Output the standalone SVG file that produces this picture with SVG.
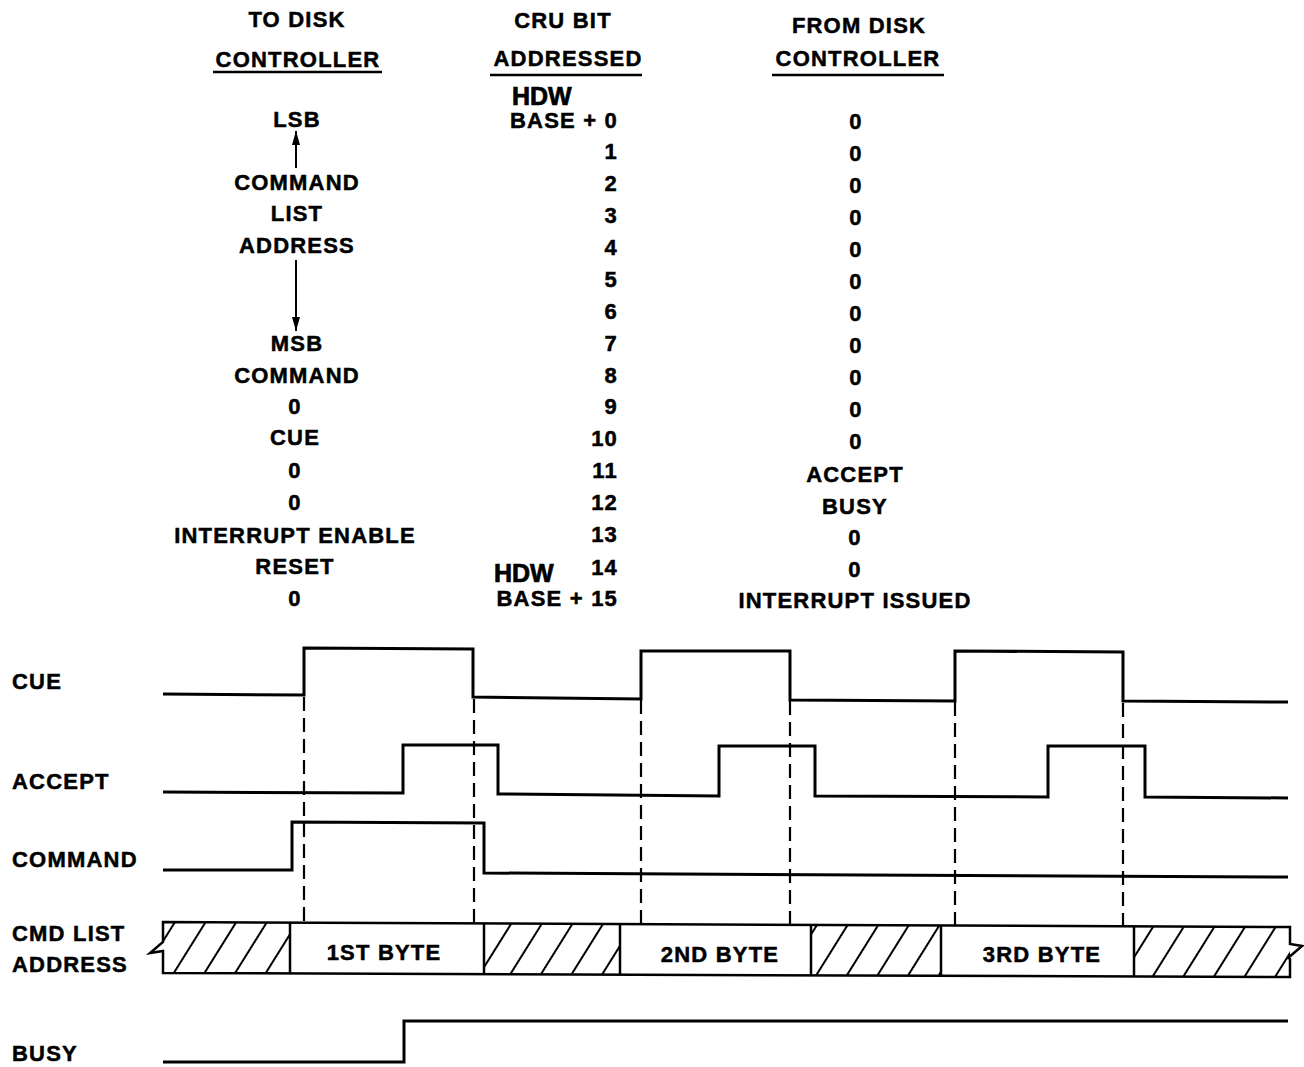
<svg xmlns="http://www.w3.org/2000/svg" width="1304" height="1067" viewBox="0 0 1304 1067">
<style>
text{font-family:"Liberation Sans",Arial,Helvetica,sans-serif;font-weight:bold;font-size:22px;letter-spacing:1.2px;fill:#000;stroke:#000;stroke-width:0.5px}
.m{text-anchor:middle}
.e{text-anchor:end}
.hdw{font-size:25px;letter-spacing:0;stroke-width:0.7px}
.ul{stroke:#000;stroke-width:2.5;fill:none}
.sig{stroke:#000;stroke-width:3;fill:none;stroke-linejoin:miter}
.dash{stroke:#000;stroke-width:2.2;stroke-dasharray:14 7;fill:none}
.bar{stroke:#000;stroke-width:2.5;fill:none}
.hat{fill:url(#hatch);stroke:none}
.arr{stroke:#000;stroke-width:2;fill:none}
</style>
<defs>
<pattern id="hatch" patternUnits="userSpaceOnUse" width="26" height="26" patternTransform="rotate(32)">
<line x1="13" y1="-2" x2="13" y2="28" stroke="#000" stroke-width="2"/>
</pattern>
<marker id="ah" viewBox="0 0 14 10" refX="14" refY="5" markerWidth="14" markerHeight="10" markerUnits="userSpaceOnUse" orient="auto">
<path d="M0,1 L14,5 L0,9 Z" fill="#000"/>
</marker>
</defs>
<rect width="1304" height="1067" fill="#fff"/>

<g id="header-to">
<text class="m" x="297" y="27">TO DISK</text>
<text class="m" x="298" y="67">CONTROLLER</text>
<line class="ul" x1="213" y1="72" x2="382" y2="72"/>
</g>
<g id="header-cru">
<text class="m" x="563" y="28">CRU BIT</text>
<text class="m" x="568" y="66">ADDRESSED</text>
<line class="ul" x1="490" y1="75" x2="642" y2="75"/>
</g>
<g id="header-from">
<text class="m" x="859" y="33">FROM DISK</text>
<text class="m" x="858" y="66">CONTROLLER</text>
<line class="ul" x1="772" y1="75" x2="944" y2="75"/>
</g>

<g id="col-to">
<text class="m" x="297" y="127">LSB</text>
<text class="m" x="297" y="190">COMMAND</text>
<text class="m" x="297" y="221">LIST</text>
<text class="m" x="297" y="253">ADDRESS</text>
<text class="m" x="297" y="351">MSB</text>
<text class="m" x="297" y="383">COMMAND</text>
<text class="m" x="295" y="414">0</text>
<text class="m" x="295" y="445">CUE</text>
<text class="m" x="295" y="478">0</text>
<text class="m" x="295" y="510">0</text>
<text class="m" x="295" y="543">INTERRUPT ENABLE</text>
<text class="m" x="295" y="574">RESET</text>
<text class="m" x="295" y="606">0</text>
</g>

<g id="col-cru">
<text class="hdw" x="512" y="105">HDW</text>
<text class="e" x="618" y="128">BASE + 0</text>
<text class="e" x="618" y="159">1</text>
<text class="e" x="618" y="191">2</text>
<text class="e" x="618" y="223">3</text>
<text class="e" x="618" y="255">4</text>
<text class="e" x="618" y="287">5</text>
<text class="e" x="618" y="319">6</text>
<text class="e" x="618" y="351">7</text>
<text class="e" x="618" y="383">8</text>
<text class="e" x="618" y="414">9</text>
<text class="e" x="618" y="446">10</text>
<text class="e" x="618" y="478">11</text>
<text class="e" x="618" y="510">12</text>
<text class="e" x="618" y="542">13</text>
<text class="e" x="618" y="575">14</text>
<text class="hdw" x="494" y="582">HDW</text>
<text class="e" x="618" y="606">BASE + 15</text>
</g>

<g id="col-from">
<text class="m" x="856" y="129">0</text>
<text class="m" x="856" y="161">0</text>
<text class="m" x="856" y="193">0</text>
<text class="m" x="856" y="225">0</text>
<text class="m" x="856" y="257">0</text>
<text class="m" x="856" y="289">0</text>
<text class="m" x="856" y="321">0</text>
<text class="m" x="856" y="353">0</text>
<text class="m" x="856" y="385">0</text>
<text class="m" x="856" y="417">0</text>
<text class="m" x="856" y="449">0</text>
<text class="m" x="855" y="482">ACCEPT</text>
<text class="m" x="855" y="514">BUSY</text>
<text class="m" x="855" y="545">0</text>
<text class="m" x="855" y="577">0</text>
<text class="m" x="855" y="608">INTERRUPT ISSUED</text>
</g>

<g id="connectors">
<line class="arr" x1="296" y1="168" x2="296" y2="131" marker-end="url(#ah)"/>
<line class="arr" x1="296" y1="260" x2="296" y2="331" marker-end="url(#ah)"/>
<line class="dash" x1="304" y1="697" x2="304" y2="922"/>
<line class="dash" x1="474" y1="699" x2="474" y2="923"/>
<line class="dash" x1="641" y1="700" x2="641" y2="924"/>
<line class="dash" x1="790" y1="701" x2="790" y2="925"/>
<line class="dash" x1="955" y1="702" x2="955" y2="925"/>
<line class="dash" x1="1123" y1="703" x2="1123" y2="926"/>
</g>

<g id="labels">
<text x="12" y="689">CUE</text>
<text x="12" y="789">ACCEPT</text>
<text x="12" y="867">COMMAND</text>
<text x="12" y="941">CMD LIST</text>
<text x="12" y="972">ADDRESS</text>
<text x="12" y="1061">BUSY</text>
</g>

<g id="sig-cue">
<path class="sig" d="M163,694 L304,695 L304,648 L473,649 L473,697 L641,699 L641,651 L790,651 L790,700 L955,701 L955,651 L1123,652 L1123,701 L1288,702"/>
</g>
<g id="sig-accept">
<path class="sig" d="M163,792 L403,793 L403,745 L498,745 L498,794 L719,796 L719,746 L815,746 L815,796 L1048,797 L1048,746 L1145,746 L1145,797 L1288,798"/>
</g>
<g id="sig-command">
<path class="sig" d="M163,870 L292,870 L292,822 L484,823 L484,873 L1288,877"/>
</g>
<g id="sig-busy">
<path class="sig" d="M163,1062 L404,1062 L404,1021 L1288,1021"/>
</g>

<g id="sig-cmdlist">
<polygon class="hat" points="163,922 290,923 290,973 163,973"/>
<polygon class="hat" points="484,923 620,924 620,974 484,973"/>
<polygon class="hat" points="811,925 941,925 941,975 811,975"/>
<polygon class="hat" points="1134,926 1290,927 1290,977 1134,976"/>
<path class="bar" d="M163,922 L1290,927 L1290,944 L1302,946 L1288,958 L1290,959 L1290,977 L163,973 L163,951 L150,953 L163,942 Z"/>
<line class="bar" x1="290" y1="923" x2="290" y2="973"/>
<line class="bar" x1="484" y1="923" x2="484" y2="974"/>
<line class="bar" x1="620" y1="924" x2="620" y2="974"/>
<line class="bar" x1="811" y1="925" x2="811" y2="975"/>
<line class="bar" x1="941" y1="925" x2="941" y2="975"/>
<line class="bar" x1="1134" y1="926" x2="1134" y2="976"/>
<text class="m" x="384" y="960">1ST BYTE</text>
<text class="m" x="720" y="962">2ND BYTE</text>
<text class="m" x="1042" y="962">3RD BYTE</text>
</g>
</svg>
